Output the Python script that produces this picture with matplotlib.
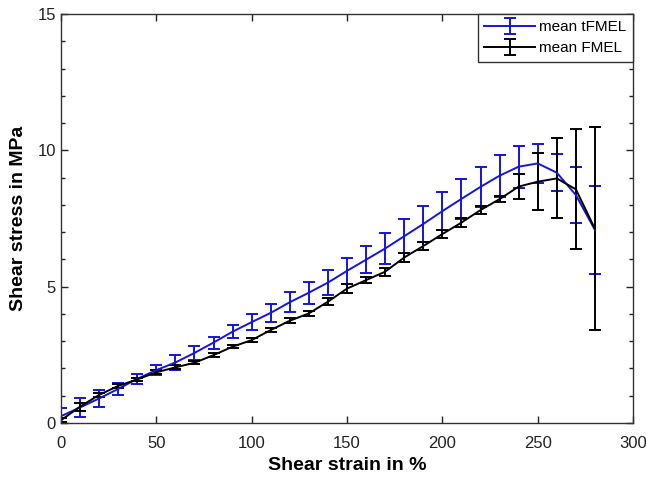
import numpy as np
import matplotlib.pyplot as plt

strain = np.arange(0, 290, 10)

# mean tFMEL (blue)
t_mean = [0.25, 0.57, 0.9, 1.25, 1.62, 1.94, 2.22, 2.57, 2.95, 3.35,
          3.7, 4.04, 4.43, 4.78, 5.15, 5.58, 5.99, 6.4, 6.85, 7.3,
          7.77, 8.22, 8.66, 9.07, 9.4, 9.52, 9.18, 8.36, 7.08]
t_err = [0.3, 0.35, 0.3, 0.23, 0.18, 0.19, 0.28, 0.27, 0.22, 0.23,
         0.28, 0.32, 0.36, 0.4, 0.46, 0.48, 0.5, 0.58, 0.63, 0.66,
         0.69, 0.74, 0.73, 0.77, 0.77, 0.7, 0.68, 1.04, 1.62]

# mean FMEL (black)
f_mean = [0.1, 0.6, 1.03, 1.36, 1.6, 1.86, 2.04, 2.21, 2.49, 2.8,
          3.04, 3.41, 3.75, 4.02, 4.45, 4.93, 5.24, 5.55, 6.07, 6.49,
          6.93, 7.35, 7.81, 8.21, 8.67, 8.85, 8.97, 8.57, 7.12]
f_err = [0.08, 0.15, 0.07, 0.08, 0.05, 0.08, 0.07, 0.06, 0.06, 0.06,
         0.08, 0.08, 0.1, 0.1, 0.12, 0.15, 0.12, 0.15, 0.15, 0.15,
         0.15, 0.15, 0.15, 0.12, 0.46, 1.05, 1.47, 2.2, 3.72]

plt.rcParams['font.family'] = ['Liberation Sans', 'DejaVu Sans']

fig = plt.figure(figsize=(6.46, 4.79), dpi=100)
ax = fig.add_axes([0.0944, 0.1169, 0.8856, 0.8539])

ax.errorbar(strain, t_mean, yerr=t_err, color='#1414dc', lw=1.4,
            elinewidth=1.4, capsize=4, capthick=1.4, label='mean tFMEL')
ax.errorbar(strain, f_mean, yerr=f_err, color='black', lw=1.4,
            elinewidth=1.4, capsize=4, capthick=1.4, label='mean FMEL')

ax.set_xlim(0, 300)
ax.set_ylim(0, 15)
ax.set_xticks(np.arange(0, 301, 50))
ax.set_yticks([0, 5, 10, 15])
ax.set_yticks(np.arange(0, 16, 1), minor=True)
ax.tick_params(which='both', direction='in', top=True, right=True,
               labelsize=12, colors='#222222', width=1)
ax.tick_params(which='major', length=5)
ax.tick_params(which='minor', length=3)
ax.tick_params(axis='x', which='major', pad=9)
for s in ax.spines.values():
    s.set_color('#333333')
    s.set_linewidth(1)

ax.set_xlabel('Shear strain in %', fontsize=14, fontweight='bold', labelpad=5)
ax.set_ylabel('Shear stress in MPa', fontsize=14, fontweight='bold', labelpad=8)

leg = ax.legend(loc='upper right', fontsize=11, handlelength=3.3,
                fancybox=False, framealpha=1, borderaxespad=0,
                edgecolor='#333333', borderpad=0.42, labelspacing=0.45,
                handletextpad=0.3)
leg.get_frame().set_linewidth(1)

fig.savefig('out.png', dpi=100)
